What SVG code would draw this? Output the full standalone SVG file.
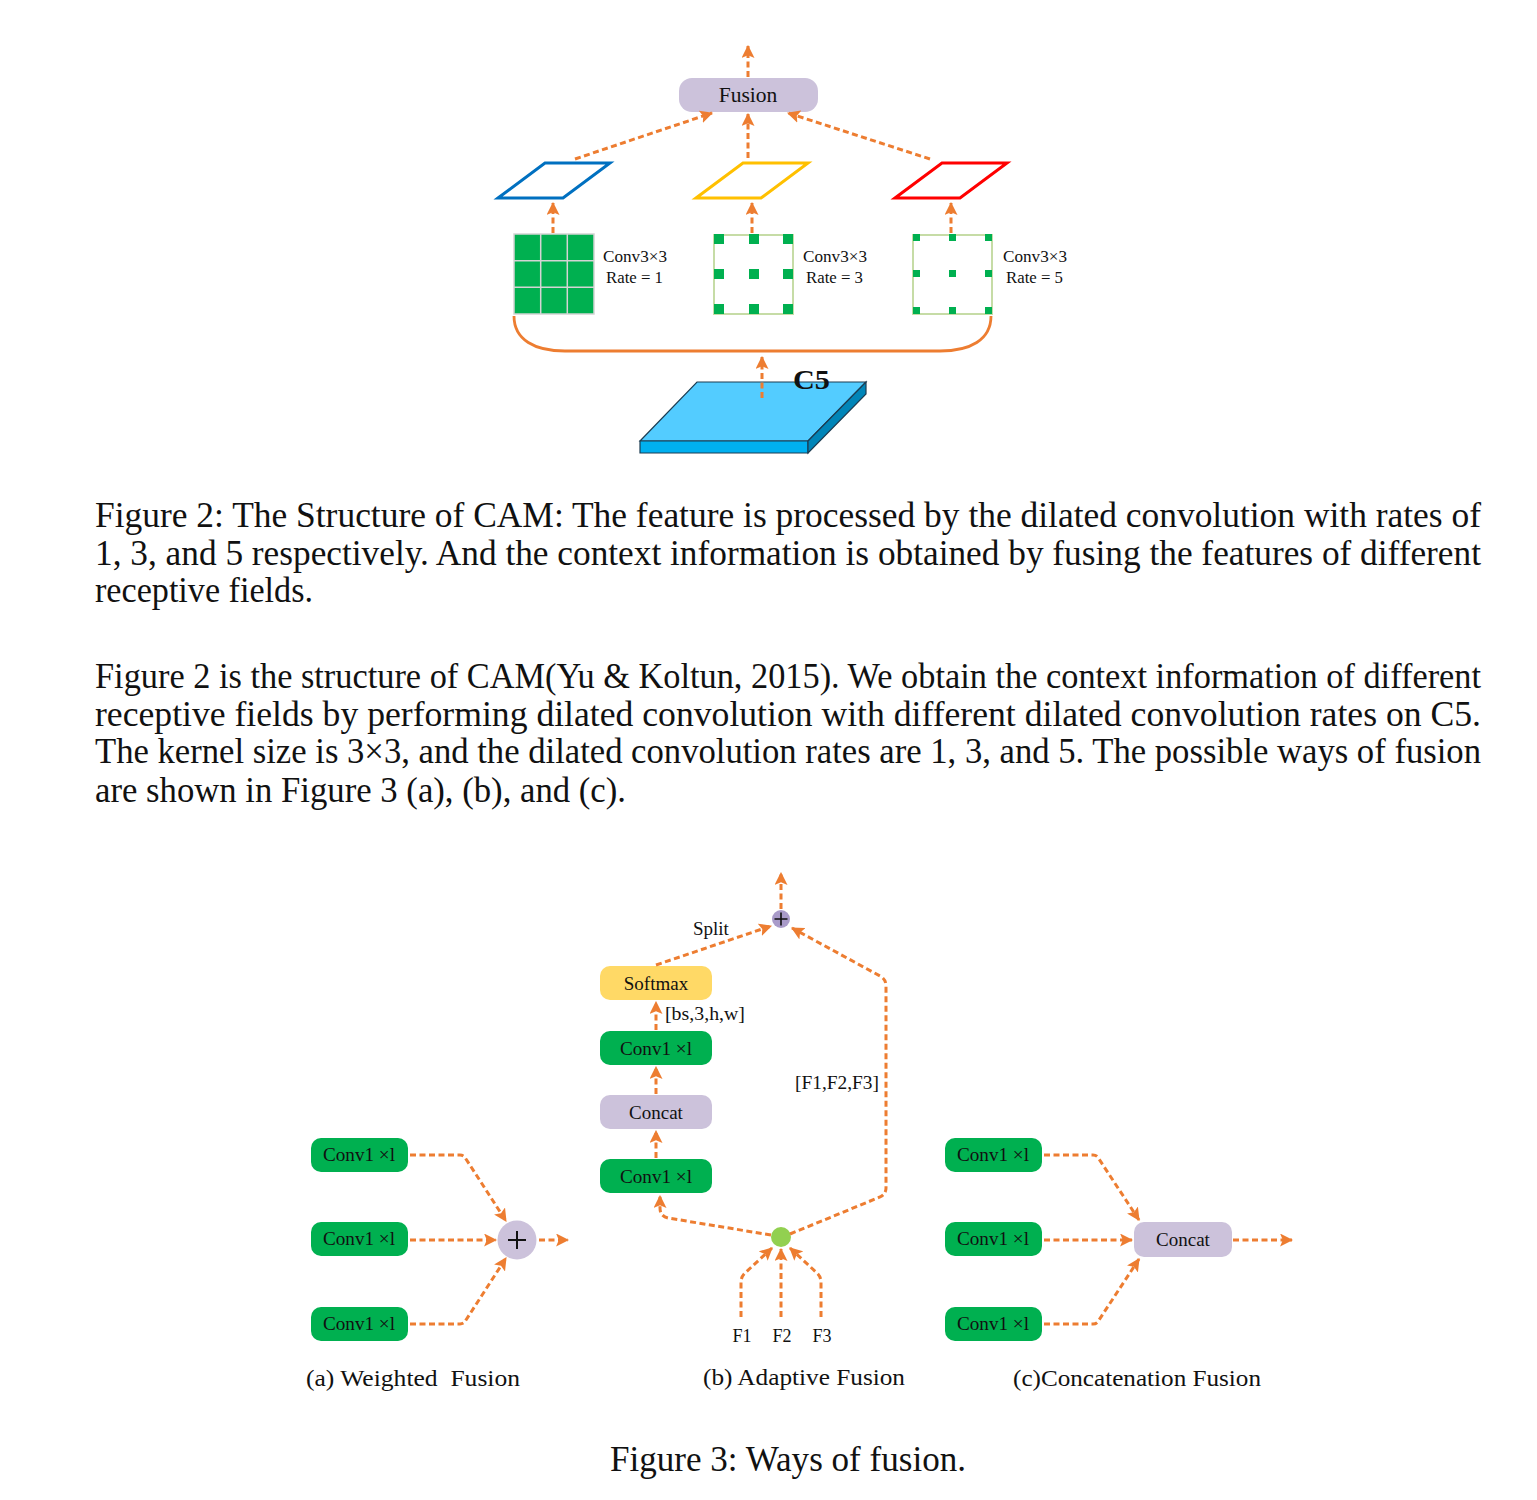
<svg xmlns="http://www.w3.org/2000/svg" width="1537" height="1500" viewBox="0 0 1537 1500">
<style>
.conn{fill:none;stroke:#ED7D31;stroke-width:3;stroke-dasharray:6 3.5;}
.t{font-family:"Liberation Serif","Times New Roman",serif;fill:#111;}
.green{fill:#00B050;}
.lav{fill:#CCC2DB;}
.cap{font-family:"Liberation Serif","Times New Roman",serif;fill:#111;font-size:35px;}
</style>
<defs>
<marker id="ah" viewBox="0 0 12 12" refX="11" refY="6" markerWidth="13" markerHeight="13" markerUnits="userSpaceOnUse" orient="auto">
<path d="M0,0 L12,6 L0,12 L2.5,6 z" fill="#ED7D31"/>
</marker>
</defs>
<rect width="1537" height="1500" fill="#fff"/>

<!-- Figure 2 -->
<g id="fusion">
<rect x="679" y="78" width="139" height="34" rx="13" class="lav"/>
<text class="t" x="748" y="102" font-size="21.5" text-anchor="middle">Fusion</text>
</g>
<g id="feat-blue"><polygon points="498,198 545,163 610,163 563,198" fill="none" stroke="#0070C0" stroke-width="3"/></g>
<g id="feat-yellow"><polygon points="696,198 743,163 808,163 761,198" fill="none" stroke="#FFC000" stroke-width="3"/></g>
<g id="feat-red"><polygon points="895,198 942,163 1007,163 960,198" fill="none" stroke="#FF0000" stroke-width="3"/></g>

<g id="kernel-rate1">
<rect x="514" y="234" width="80" height="80" fill="#00B050" stroke="#D4D4D4" stroke-width="1.5"/>
<path d="M540.7,234 V314 M567.3,234 V314 M514,260.7 H594 M514,287.3 H594" stroke="#D4D4D4" stroke-width="1.5"/>
<text class="t" x="603" y="262" font-size="16.5" textLength="64" lengthAdjust="spacingAndGlyphs">Conv3×3</text>
<text class="t" x="606" y="283" font-size="16.5" textLength="57" lengthAdjust="spacingAndGlyphs">Rate = 1</text>
</g>
<g id="kernel-rate3">
<rect x="714" y="235" width="79" height="79" fill="#fff" stroke="#C6DCA6" stroke-width="2"/>
<g class="green">
<rect x="714" y="234" width="10" height="10"/><rect x="749" y="234" width="10" height="10"/><rect x="783" y="234" width="10" height="10"/>
<rect x="714" y="269" width="10" height="10"/><rect x="749" y="269" width="10" height="10"/><rect x="783" y="269" width="10" height="10"/>
<rect x="714" y="304" width="10" height="10"/><rect x="749" y="304" width="10" height="10"/><rect x="783" y="304" width="10" height="10"/>
</g>
<text class="t" x="803" y="262" font-size="16.5" textLength="64" lengthAdjust="spacingAndGlyphs">Conv3×3</text>
<text class="t" x="806" y="283" font-size="16.5" textLength="57" lengthAdjust="spacingAndGlyphs">Rate = 3</text>
</g>
<g id="kernel-rate5">
<rect x="913" y="235" width="79" height="79" fill="#fff" stroke="#C6DCA6" stroke-width="2"/>
<g class="green">
<rect x="913" y="234" width="7" height="7"/><rect x="949" y="234" width="7" height="7"/><rect x="985" y="234" width="7" height="7"/>
<rect x="913" y="270" width="7" height="7"/><rect x="949" y="270" width="7" height="7"/><rect x="985" y="270" width="7" height="7"/>
<rect x="913" y="307" width="7" height="7"/><rect x="949" y="307" width="7" height="7"/><rect x="985" y="307" width="7" height="7"/>
</g>
<text class="t" x="1003" y="262" font-size="16.5" textLength="64" lengthAdjust="spacingAndGlyphs">Conv3×3</text>
<text class="t" x="1006" y="283" font-size="16.5" textLength="57" lengthAdjust="spacingAndGlyphs">Rate = 5</text>
</g>

<g id="c5">
<polygon points="697,382 866,382 808,441 640,441" fill="#53CCFF" stroke="#1C3D52" stroke-width="1.2"/>
<polygon points="640,441 808,441 808,453 640,453" fill="#00B0F0" stroke="#1C3D52" stroke-width="1.2"/>
<polygon points="808,441 866,382 866,394 808,453" fill="#0085B8" stroke="#1C3D52" stroke-width="1.2"/>
<text class="t" x="793" y="389" font-size="27" font-weight="bold" textLength="37" lengthAdjust="spacingAndGlyphs">C5</text>
</g>

<g id="connectors-fig2">
<path class="conn" marker-end="url(#ah)" d="M748,77 L748,46"/>
<path class="conn" marker-end="url(#ah)" d="M575,159 L712,113"/>
<path class="conn" marker-end="url(#ah)" d="M748,158 L748,114"/>
<path class="conn" marker-end="url(#ah)" d="M930,159 L788,113"/>
<path class="conn" marker-end="url(#ah)" d="M553,233 L553,203"/>
<path class="conn" marker-end="url(#ah)" d="M752,233 L752,203"/>
<path class="conn" marker-end="url(#ah)" d="M951,233 L951,203"/>
<path class="conn" marker-end="url(#ah)" d="M762,398 L762,357"/>
<path d="M514,316 C514,340 535,351 565,351 L940,351 C970,351 991,340 991,316" fill="none" stroke="#ED7D31" stroke-width="2.8"/>
</g>

<!-- Caption and paragraph -->
<g id="caption2">
<text class="cap" x="95" y="527" textLength="1386" lengthAdjust="spacingAndGlyphs">Figure 2: The Structure of CAM: The feature is processed by the dilated convolution with rates of</text>
<text class="cap" x="95" y="565" textLength="1386" lengthAdjust="spacingAndGlyphs">1, 3, and 5 respectively. And the context information is obtained by fusing the features of different</text>
<text class="cap" x="95" y="602" textLength="218" lengthAdjust="spacingAndGlyphs">receptive fields.</text>
</g>
<g id="paragraph">
<text class="cap" x="95" y="688" textLength="1386" lengthAdjust="spacingAndGlyphs">Figure 2 is the structure of CAM(Yu &amp; Koltun, 2015). We obtain the context information of different</text>
<text class="cap" x="95" y="726" textLength="1386" lengthAdjust="spacingAndGlyphs">receptive fields by performing dilated convolution with different dilated convolution rates on C5.</text>
<text class="cap" x="95" y="763" textLength="1386" lengthAdjust="spacingAndGlyphs">The kernel size is 3×3, and the dilated convolution rates are 1, 3, and 5. The possible ways of fusion</text>
<text class="cap" x="95" y="802" textLength="531" lengthAdjust="spacingAndGlyphs">are shown in Figure 3 (a), (b), and (c).</text>
</g>

<!-- Figure 3 (a) -->
<g id="a-conv1"><rect x="311" y="1138" width="97" height="34" rx="10" class="green"/><text class="t" x="359" y="1161" font-size="19" text-anchor="middle" textLength="72" lengthAdjust="spacingAndGlyphs">Conv1 ×l</text></g>
<g id="a-conv2"><rect x="311" y="1222" width="97" height="34" rx="10" class="green"/><text class="t" x="359" y="1245" font-size="19" text-anchor="middle" textLength="72" lengthAdjust="spacingAndGlyphs">Conv1 ×l</text></g>
<g id="a-conv3"><rect x="311" y="1307" width="97" height="34" rx="10" class="green"/><text class="t" x="359" y="1330" font-size="19" text-anchor="middle" textLength="72" lengthAdjust="spacingAndGlyphs">Conv1 ×l</text></g>
<g id="a-plus"><circle cx="517" cy="1240" r="19.5" class="lav"/><path d="M508,1240 H526 M517,1231 V1249" stroke="#111" stroke-width="2"/></g>
<text class="t" x="306" y="1386" font-size="24" textLength="214" lengthAdjust="spacingAndGlyphs" xml:space="preserve">(a) Weighted  Fusion</text>

<!-- Figure 3 (b) -->
<g id="b-plus"><circle cx="781" cy="919" r="9" fill="#A99BC9"/><path d="M774.5,919 H787.5 M781,912.5 V925.5" stroke="#111" stroke-width="1.6"/></g>
<g id="b-softmax"><rect x="600" y="966" width="112" height="34" rx="10" fill="#FFD966"/><text class="t" x="656" y="990" font-size="19" text-anchor="middle">Softmax</text></g>
<g id="b-conv-top"><rect x="600" y="1031" width="112" height="34" rx="10" class="green"/><text class="t" x="656" y="1055" font-size="19" text-anchor="middle" textLength="72" lengthAdjust="spacingAndGlyphs">Conv1 ×l</text></g>
<g id="b-concat"><rect x="600" y="1095" width="112" height="34" rx="10" class="lav"/><text class="t" x="656" y="1119" font-size="19" text-anchor="middle">Concat</text></g>
<g id="b-conv-bot"><rect x="600" y="1159" width="112" height="34" rx="10" class="green"/><text class="t" x="656" y="1183" font-size="19" text-anchor="middle" textLength="72" lengthAdjust="spacingAndGlyphs">Conv1 ×l</text></g>
<g id="b-dot"><circle cx="781" cy="1237" r="10" fill="#92D050"/></g>
<text class="t" x="693" y="935" font-size="19">Split</text>
<text class="t" x="665" y="1020" font-size="19" textLength="80" lengthAdjust="spacingAndGlyphs">[bs,3,h,w]</text>
<text class="t" x="879" y="1089" font-size="19" text-anchor="end" textLength="84" lengthAdjust="spacingAndGlyphs">[F1,F2,F3]</text>
<text class="t" x="742" y="1342" font-size="18" text-anchor="middle">F1</text>
<text class="t" x="782" y="1342" font-size="18" text-anchor="middle">F2</text>
<text class="t" x="822" y="1342" font-size="18" text-anchor="middle">F3</text>
<text class="t" x="703" y="1385" font-size="24" textLength="202" lengthAdjust="spacingAndGlyphs">(b) Adaptive Fusion</text>

<!-- Figure 3 (c) -->
<g id="c-conv1"><rect x="945" y="1138" width="97" height="34" rx="10" class="green"/><text class="t" x="993" y="1161" font-size="19" text-anchor="middle" textLength="72" lengthAdjust="spacingAndGlyphs">Conv1 ×l</text></g>
<g id="c-conv2"><rect x="945" y="1222" width="97" height="34" rx="10" class="green"/><text class="t" x="993" y="1245" font-size="19" text-anchor="middle" textLength="72" lengthAdjust="spacingAndGlyphs">Conv1 ×l</text></g>
<g id="c-conv3"><rect x="945" y="1307" width="97" height="34" rx="10" class="green"/><text class="t" x="993" y="1330" font-size="19" text-anchor="middle" textLength="72" lengthAdjust="spacingAndGlyphs">Conv1 ×l</text></g>
<g id="c-concat"><rect x="1134" y="1222" width="98" height="35" rx="10" class="lav"/><text class="t" x="1183" y="1246" font-size="19" text-anchor="middle">Concat</text></g>
<text class="t" x="1013" y="1386" font-size="24" textLength="248" lengthAdjust="spacingAndGlyphs">(c)Concatenation Fusion</text>

<g id="connectors-fig3">
<path class="conn" marker-end="url(#ah)" d="M410,1155 L460,1155 Q464,1155 466,1159 L506,1221"/>
<path class="conn" marker-end="url(#ah)" d="M410,1240 L496,1240"/>
<path class="conn" marker-end="url(#ah)" d="M410,1324 L460,1324 Q464,1324 466,1320 L506,1258"/>
<path class="conn" marker-end="url(#ah)" d="M539,1240 L568,1240"/>

<path class="conn" marker-end="url(#ah)" d="M781,909 L781,873"/>
<path class="conn" marker-end="url(#ah)" d="M656,965 L771,926"/>
<path class="conn" marker-end="url(#ah)" d="M790,1234 L880,1197 Q886,1194 886,1188 L886,986 Q886,979 880,976 L792,928"/>
<path class="conn" marker-end="url(#ah)" d="M771,1235 L668,1218 Q660,1216 660,1208 L660,1196"/>
<path class="conn" marker-end="url(#ah)" d="M656,1158 L656,1131"/>
<path class="conn" marker-end="url(#ah)" d="M656,1094 L656,1067"/>
<path class="conn" marker-end="url(#ah)" d="M656,1030 L656,1002"/>
<path class="conn" marker-end="url(#ah)" d="M781,1317 L781,1249"/>
<path class="conn" marker-end="url(#ah)" d="M741,1317 L741,1282 Q741,1277 745,1273 L772,1248"/>
<path class="conn" marker-end="url(#ah)" d="M821,1317 L821,1282 Q821,1277 817,1273 L790,1248"/>

<path class="conn" marker-end="url(#ah)" d="M1044,1155 L1093,1155 Q1097,1155 1099,1159 L1139,1220"/>
<path class="conn" marker-end="url(#ah)" d="M1044,1240 L1132,1240"/>
<path class="conn" marker-end="url(#ah)" d="M1044,1324 L1093,1324 Q1097,1324 1099,1320 L1139,1259"/>
<path class="conn" marker-end="url(#ah)" d="M1233,1240 L1292,1240"/>
</g>

<text class="cap" x="610" y="1471" textLength="356" lengthAdjust="spacingAndGlyphs">Figure 3: Ways of fusion.</text>
</svg>
